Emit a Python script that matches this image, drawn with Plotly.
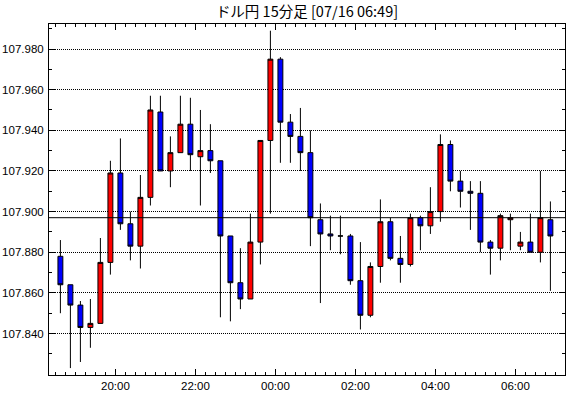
import pandas as pd
import plotly.graph_objects as go

# 15-minute bars, 07/15 18:30 -> 07/16 06:45 (bar start times)
bar_start = pd.date_range("2020-07-15 18:30", "2020-07-16 06:45", freq="15min")

opens = [107.878, 107.864, 107.854, 107.843, 107.845, 107.875, 107.919, 107.894, 107.883, 107.907,
         107.949, 107.920, 107.929, 107.943, 107.927, 107.930, 107.925, 107.888, 107.865, 107.857,
         107.885, 107.935, 107.975, 107.944, 107.937, 107.929, 107.896, 107.889, 107.888, 107.888,
         107.866, 107.849, 107.873, 107.895, 107.877, 107.874, 107.897, 107.893, 107.900, 107.933,
         107.915, 107.910, 107.909, 107.885, 107.882, 107.896, 107.883, 107.885, 107.880, 107.896]
highs = [107.886, 107.864, 107.856, 107.857, 107.887, 107.925, 107.936, 107.900, 107.918, 107.957,
         107.957, 107.937, 107.957, 107.956, 107.950, 107.943, 107.925, 107.888, 107.882, 107.899,
         107.935, 107.989, 107.976, 107.948, 107.951, 107.940, 107.904, 107.898, 107.898, 107.889,
         107.885, 107.875, 107.906, 107.897, 107.888, 107.899, 107.898, 107.912, 107.938, 107.935,
         107.920, 107.915, 107.915, 107.886, 107.899, 107.899, 107.890, 107.899, 107.920, 107.905]
lows = [107.850, 107.823, 107.826, 107.833, 107.845, 107.869, 107.891, 107.876, 107.872, 107.903,
        107.920, 107.912, 107.929, 107.920, 107.903, 107.919, 107.848, 107.846, 107.852, 107.857,
        107.874, 107.899, 107.924, 107.924, 107.920, 107.883, 107.855, 107.881, 107.879, 107.864,
        107.842, 107.848, 107.865, 107.876, 107.865, 107.873, 107.881, 107.889, 107.895, 107.910,
        107.902, 107.891, 107.880, 107.869, 107.876, 107.881, 107.881, 107.880, 107.875, 107.861]
closes = [107.864, 107.854, 107.843, 107.845, 107.875, 107.919, 107.894, 107.883, 107.907, 107.950,
          107.920, 107.929, 107.943, 107.928, 107.930, 107.925, 107.888, 107.865, 107.857, 107.885,
          107.935, 107.975, 107.944, 107.937, 107.929, 107.897, 107.889, 107.888, 107.888, 107.866,
          107.849, 107.873, 107.895, 107.877, 107.874, 107.897, 107.893, 107.900, 107.933, 107.915,
          107.910, 107.909, 107.885, 107.882, 107.898, 107.897, 107.885, 107.880, 107.897, 107.888]

ref_price = 107.897
title_text = "ドル円 15分足 [07/16 06:49]"
y_ticks = [107.84, 107.86, 107.88, 107.90, 107.92, 107.94, 107.96, 107.98]
y_tick_labels = ["107.840", "107.860", "107.880", "107.900", "107.920", "107.940", "107.960", "107.980"]

# candles drawn at the middle of each 15-minute bar
x_mid = bar_start + pd.Timedelta(minutes=7, seconds=30)

fig = go.Figure()
fig.add_trace(go.Candlestick(
    x=x_mid, open=opens, high=highs, low=lows, close=closes,
    increasing=dict(fillcolor="#ff0000", line=dict(color="#000000", width=1)),
    decreasing=dict(fillcolor="#0000ff", line=dict(color="#000000", width=1)),
    whiskerwidth=0, showlegend=False, hoverinfo="skip",
))

fig.add_shape(type="line", xref="paper", x0=0, x1=1, yref="y", y0=ref_price, y1=ref_price,
              line=dict(color="#000000", width=1))

fig.update_layout(
    width=570, height=398,
    margin=dict(l=49, r=5, t=24, b=23, pad=0),
    paper_bgcolor="white", plot_bgcolor="white",
    font=dict(family="Liberation Sans, Noto Sans CJK JP", size=12, color="#000000"),
    title=dict(text=title_text, x=0.5, xref="paper", y=1 - 12 / 398, yref="container",
               yanchor="middle", xanchor="center",
               font=dict(family="Noto Sans CJK JP", size=14.5, color="#000000")),
    xaxis=dict(
        type="date",
        range=["2020-07-15 18:20:24", "2020-07-16 07:14:24"],
        rangeslider=dict(visible=False),
        showgrid=False, zeroline=False, automargin=False,
        showline=True, linecolor="#000000", linewidth=1, mirror="allticks",
        ticks="inside", ticklen=6, tickcolor="#000000", tickwidth=1,
        tick0="2020-07-15 00:00", dtick=2 * 3600 * 1000, tickformat="%H:%M",
        minor=dict(ticks="inside", ticklen=3, tickcolor="#000000", dtick=15 * 60 * 1000,
                   tick0="2020-07-15 00:00", showgrid=False),
        tickfont=dict(family="Liberation Sans", size=11.5),
        fixedrange=True,
    ),
    yaxis=dict(
        range=[107.8196, 107.9923],
        tickvals=y_ticks, ticktext=y_tick_labels,
        showgrid=True, gridcolor="#000000", gridwidth=1, griddash="1px,1px",
        zeroline=False, automargin=False,
        showline=True, linecolor="#000000", linewidth=1, mirror="allticks",
        ticks="inside", ticklen=6, tickcolor="#000000", tickwidth=1,
        minor=dict(ticks="inside", ticklen=3, tickcolor="#000000", dtick=0.01,
                   tick0=107.0, showgrid=False),
        tickfont=dict(family="Liberation Sans", size=11.5),
        ticklabelstandoff=2,
        fixedrange=True,
    ),
)

fig.write_html("out.html", config={"displayModeBar": False},
               post_script="document.body.style.margin='0';document.body.style.padding='0';")
